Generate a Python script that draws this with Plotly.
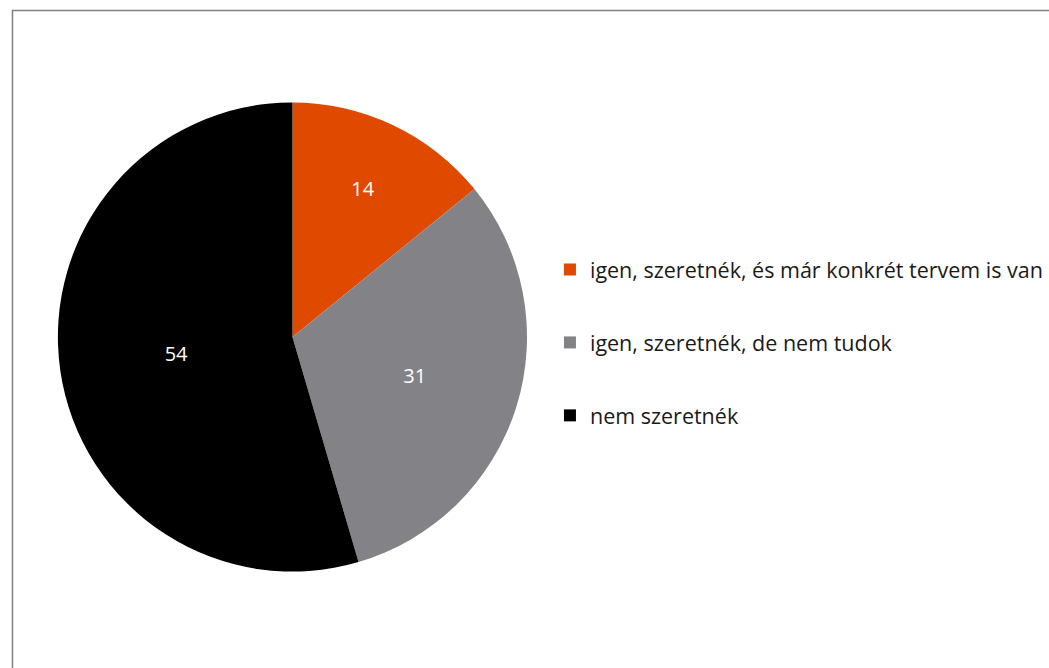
import plotly.graph_objects as go

labels = ["igen, szeretnék, és már konkrét tervem is van",
          "igen, szeretnék, de nem tudok",
          "nem szeretnék"]
values = [14, 31, 54]
colors = ["#E04A00", "#838387", "#000000"]

W, H = 1049, 668
cx, cy, r = 293, 337, 235

fig = go.Figure()
fig.add_trace(go.Pie(
    labels=labels, values=values, sort=False, direction="clockwise", rotation=0,
    marker=dict(colors=colors, line=dict(width=0)),
    textinfo="value", textposition="inside", insidetextorientation="horizontal",
    textfont=dict(color="white", size=20, family="Open Sans"),
    showlegend=False, hoverinfo="label+value",
    domain=dict(x=[(cx - r) / W, (cx + r) / W], y=[(H - cy - r) / H, (H - cy + r) / H]),
))
for lab, col in zip(labels, colors):
    fig.add_trace(go.Scatter(
        x=[None], y=[None], mode="markers", name=lab,
        marker=dict(symbol="square", size=13, color=col),
        legendgroup=lab, showlegend=True,
    ))

fig.update_layout(
    width=W, height=H,
    margin=dict(l=0, r=0, t=0, b=0),
    paper_bgcolor="white", plot_bgcolor="white",
    xaxis=dict(visible=False), yaxis=dict(visible=False),
    legend=dict(x=551 / W, y=(H - 249) / H, xanchor="left", yanchor="top",
                font=dict(size=21.5, family="Open Sans", color="#1a1a1a"),
                tracegroupgap=42, itemsizing="constant", itemwidth=30,
                bgcolor="rgba(0,0,0,0)"),
    shapes=[dict(type="rect", xref="paper", yref="paper",
                 x0=12.5 / W, x1=1.2, y0=-0.2, y1=(H - 10.5) / H,
                 line=dict(color="#808080", width=1.5), fillcolor="rgba(0,0,0,0)",
                 layer="below")],
)
fig.write_html("out.html", config={"displayModeBar": False},
               post_script="document.body.style.margin='0';")
